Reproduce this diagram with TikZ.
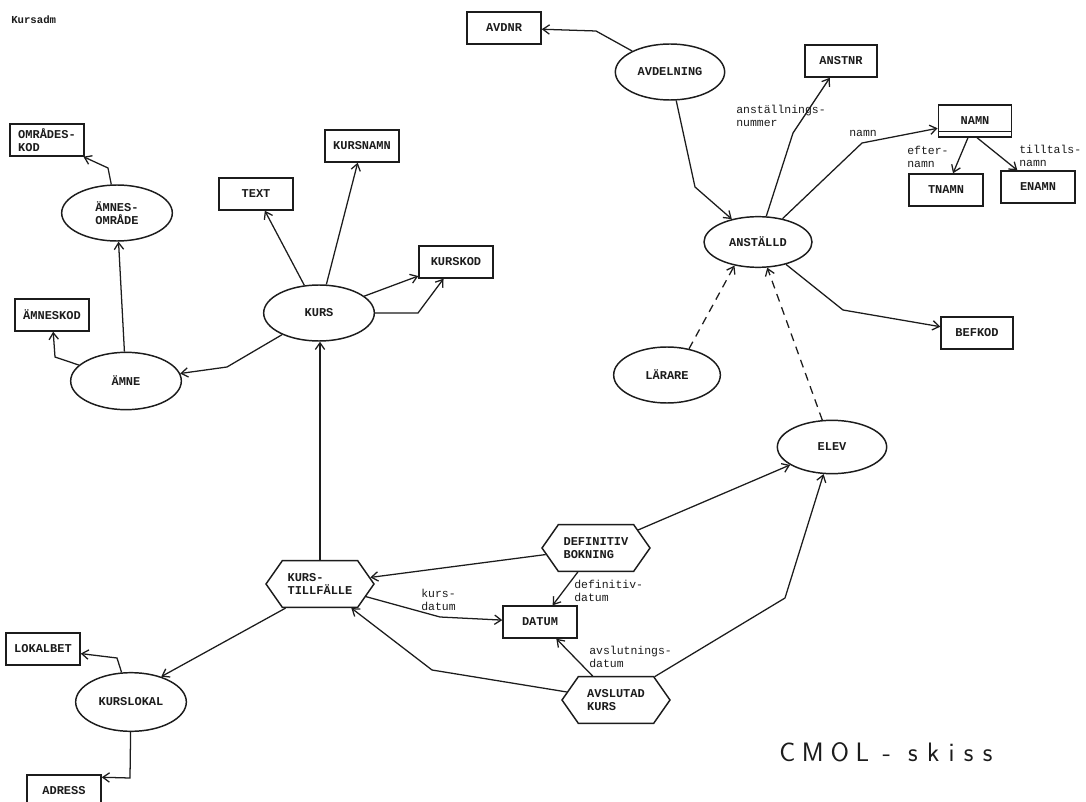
\documentclass[tikz,border=0pt]{standalone}
\usepackage{fontspec}
\usetikzlibrary{shapes.geometric,shapes.symbols,arrows.meta}
\newfontfamily\dotfont{Liberation Mono}
\definecolor{ink}{HTML}{1C1C1C}
\begin{document}
\begin{tikzpicture}[x=0.75pt,y=-0.75pt,
  every node/.style={text=ink, font=\dotfont\bfseries\fontsize{9}{9.8}\selectfont},
  ent/.style={ellipse, draw=ink, line width=1.1pt, minimum width=83pt, minimum height=42pt, inner sep=0pt, align=center},
  attr/.style={rectangle, draw=ink, line width=1.1pt, minimum width=55.5pt, minimum height=24pt, inner sep=1pt, align=left},
  rel/.style={signal, signal to=west and east, signal pointer angle=110, draw=ink, line width=1.1pt,
              minimum width=81pt, minimum height=35pt, inner sep=1pt, align=left},
  lbl/.style={font=\dotfont\fontsize{8.6}{9.8}\selectfont, align=left, anchor=west, inner sep=0pt},
  link/.style={draw=ink, line width=0.95pt, -{Straight Barb[length=5pt,width=7pt]}},
  isa/.style={link, dash pattern=on 6pt off 4.5pt}
]
\useasboundingbox[fill=white] (0,0) rectangle (1086,802);

% page heading
\node[anchor=west, inner sep=0pt, font=\dotfont\bfseries\fontsize{8}{9}\selectfont] (head) at (11,20) {Kursadm};

% --- personnel part ---
\node[attr] (avdnr) at (504,28) {AVDNR};
\node[ent, minimum width=82pt] (avd) at (670,72) {AVDELNING};
\node[attr, minimum width=54pt] (anstnr) at (841,61) {ANSTNR};
\node[attr, minimum width=55pt] (namn) at (975,121) {NAMN};
\draw[ink, line width=1.1pt] ([yshift=4.5pt]namn.south west) -- ([yshift=4.5pt]namn.south east);
\node[attr] (tnamn) at (946,190) {TNAMN};
\node[attr] (enamn) at (1038,187) {ENAMN};
\node[ent, minimum width=81pt, minimum height=38pt] (anst) at (758,242) {ANSTÄLLD};
\node[attr, minimum width=54pt] (befkod) at (977,333) {BEFKOD};
\node[ent, minimum width=80pt] (larare) at (667,375) {LÄRARE};
\node[ent, minimum width=82pt, minimum height=40pt] (elev) at (832,447) {ELEV};

% --- course part ---
\node[ent] (kurs) at (319,313) {KURS};
\node[attr] (text) at (256,194) {TEXT};
\node[attr] (kursnamn) at (362,146) {KURSNAMN};
\node[attr] (kurskod) at (456,262) {KURSKOD};
\node[ent] (amnesomr) at (117,213) {ÄMNES-\\OMRÅDE};
\node[attr] (omrkod) at (47,140) {OMRÅDES-\\KOD};
\node[ent, minimum height=43pt] (amne) at (126,381) {ÄMNE};
\node[attr] (amneskod) at (52,315) {ÄMNESKOD};

\node[rel] (kt) at (320,584) {KURS-\\TILLFÄLLE};
\node[rel] (defbok) at (596,548) {DEFINITIV\\BOKNING};
\node[rel] (avsl) at (616,700) {AVSLUTAD\\KURS};
\node[attr] (datum) at (540,622) {DATUM};

\node[ent, minimum height=44pt] (kl) at (131,702) {KURSLOKAL};
\node[attr] (lokalbet) at (43,649) {LOKALBET};
\node[attr] (adress) at (64,791) {ADRESS};

% --- connectors ---
\draw[link] (avd) -- (596,31) -- (avdnr);
\draw[link] (avd) -- (695,187) -- (anst);
\draw[link] (anst) -- (793,133) -- (anstnr);
\draw[link] (anst) -- (862,143) -- (namn);
\draw[link] (namn) -- (tnamn);
\draw[link] (namn.-83) -- (enamn.141);
\draw[link] (anst) -- (843,310) -- (befkod);
\draw[isa] (larare.50) -- (anst.-135);
\draw[isa] (elev) -- (anst);

\draw[link] (kurs) -- (text);
\draw[link] (kurs) -- (kursnamn);
\draw[link] (kurs) -- (kurskod);
\draw[link] (kurs) -- (418,313) -- (kurskod);
\draw[link] (kurs) -- (227,367) -- (amne);
\draw[link] (amne) -- (55,357) -- (amneskod);
\draw[link] (amne) -- (amnesomr);
\draw[link] (amnesomr) -- (108,168) -- (omrkod);

\draw[link] (kt.north) -- (kt.north |- kurs.south);
\draw[link] (defbok) -- (kt);
\draw[link] (defbok) -- (elev);
\draw[link] (defbok) -- (datum);
\draw[link] (kt) -- (440,617) -- (datum);
\draw[link] (avsl) -- (datum);
\draw[link] (avsl) -- (432,670) -- (kt);
\draw[link] (avsl) -- (785,598) -- (elev);
\draw[link] (kt.-145) -- (kl.40);
\draw[link] (kl) -- (117,658) -- (lokalbet);
\draw[link] (kl) -- (130,778) -- (adress.20);

% --- connector labels ---
\node[lbl] (l-anstnr) at (736,116) {anställnings-\\nummer};
\node[lbl] (l-namn) at (849,133) {namn};
\node[lbl] (l-efter) at (907,157) {efter-\\namn};
\node[lbl] (l-tilltal) at (1019,156) {tilltals-\\namn};
\node[lbl] (l-kursdat) at (421,600) {kurs-\\datum};
\node[lbl] (l-defdat) at (574,591) {definitiv-\\datum};
\node[lbl] (l-avsldat) at (589,657) {avslutnings-\\datum};

% handwritten caption, loosely spaced
\node[font=\sffamily\fontsize{20}{20}\selectfont, anchor=west, inner sep=0pt] (cmol) at (779,752)
  {C\kern5pt M\kern5pt O\kern5pt L\kern10pt -\kern13pt s\kern7pt k\kern7pt i\kern7pt s\kern7pt s};
\end{tikzpicture}
\end{document}
